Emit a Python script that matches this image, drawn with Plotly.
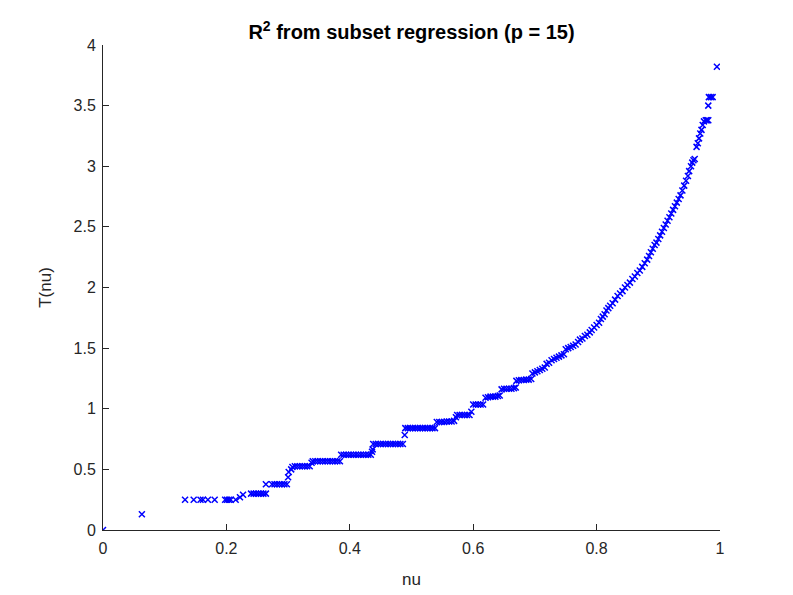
import plotly.graph_objects as go

title_text = "<b>R<sup>2</sup> from subset regression (p = 15)</b>"

nu = [
    0.000, 0.063,
    0.133, 0.147, 0.158, 0.162, 0.170, 0.181,
    0.198, 0.201, 0.204, 0.207, 0.215, 0.222, 0.227,
    0.240, 0.244, 0.248, 0.252, 0.256, 0.260, 0.264,
    0.264, 0.274, 0.278, 0.282, 0.286, 0.290, 0.294, 0.298,
    0.300, 0.301, 0.305, 0.307,
    0.311, 0.315, 0.319, 0.323, 0.327, 0.331, 0.335, 0.338,
    0.340, 0.344, 0.348, 0.352, 0.356, 0.360, 0.364, 0.368, 0.372, 0.376, 0.380, 0.384,
    0.386, 0.390, 0.394, 0.398, 0.402, 0.406, 0.410, 0.414, 0.418, 0.422, 0.426, 0.430, 0.434,
    0.436, 0.437,
    0.438, 0.442, 0.446, 0.450, 0.454, 0.458, 0.462, 0.466, 0.470, 0.474, 0.478, 0.482, 0.486,
    0.489,
    0.490, 0.494, 0.498, 0.502, 0.506, 0.510, 0.514, 0.518, 0.522, 0.526, 0.530, 0.534, 0.538,
    0.541, 0.545, 0.549, 0.553, 0.557, 0.561, 0.565, 0.569,
    0.572, 0.574, 0.578, 0.582, 0.586, 0.590, 0.594, 0.597,
    0.600, 0.604, 0.608, 0.612, 0.616,
    0.620, 0.624, 0.628, 0.632, 0.636, 0.640, 0.643,
    0.646, 0.650, 0.654, 0.658, 0.662, 0.666, 0.669,
    0.670, 0.674, 0.678, 0.682, 0.686, 0.690, 0.694,
    0.696, 0.700, 0.704, 0.708, 0.712, 0.716,
    0.719, 0.723, 0.727, 0.731, 0.735, 0.739, 0.743, 0.747,
    0.750, 0.754, 0.758, 0.762, 0.766, 0.770,
    0.773, 0.777, 0.781, 0.785, 0.789,
    0.792, 0.796, 0.800, 0.804,
    0.807, 0.810, 0.813, 0.816, 0.819,
    0.822, 0.826, 0.830, 0.834, 0.838, 0.842, 0.846, 0.850, 0.854, 0.858,
    0.862, 0.866, 0.870, 0.874, 0.878, 0.882, 0.885, 0.888, 0.891, 0.894,
    0.897, 0.900, 0.903, 0.906, 0.909, 0.912, 0.915, 0.918, 0.921, 0.924,
    0.927, 0.930, 0.933, 0.936, 0.939, 0.942, 0.945, 0.948, 0.950, 0.953,
    0.955, 0.957, 0.959,
    0.962, 0.964, 0.966, 0.968, 0.970, 0.972, 0.974, 0.977, 0.979, 0.981,
    0.981, 0.982, 0.985, 0.988, 0.995,
]

T = [
    0.00, 0.13,
    0.25, 0.25, 0.25, 0.25, 0.25, 0.25,
    0.25, 0.25, 0.25, 0.25, 0.25, 0.27, 0.29,
    0.30, 0.30, 0.30, 0.30, 0.30, 0.30, 0.30,
    0.377, 0.377, 0.377, 0.377, 0.377, 0.377, 0.377, 0.377,
    0.435, 0.478, 0.50, 0.52,
    0.525, 0.525, 0.525, 0.525, 0.525, 0.525, 0.525, 0.555,
    0.567, 0.567, 0.567, 0.567, 0.567, 0.567, 0.567, 0.567, 0.567, 0.567, 0.567, 0.567,
    0.62, 0.62, 0.62, 0.62, 0.62, 0.62, 0.62, 0.62, 0.62, 0.62, 0.62, 0.62, 0.62,
    0.645, 0.665,
    0.71, 0.71, 0.71, 0.71, 0.71, 0.71, 0.71, 0.71, 0.71, 0.71, 0.71, 0.71, 0.71,
    0.784,
    0.84, 0.84, 0.84, 0.84, 0.84, 0.84, 0.84, 0.84, 0.84, 0.84, 0.84, 0.84, 0.84,
    0.89, 0.89, 0.89, 0.89, 0.895, 0.895, 0.895, 0.90,
    0.93, 0.948, 0.948, 0.948, 0.948, 0.948, 0.948, 0.976,
    1.035, 1.035, 1.035, 1.035, 1.035,
    1.09, 1.095, 1.10, 1.10, 1.10, 1.105, 1.11,
    1.16, 1.165, 1.165, 1.165, 1.165, 1.17, 1.175,
    1.23, 1.235, 1.237, 1.237, 1.24, 1.24, 1.245,
    1.29, 1.30, 1.31, 1.32, 1.33, 1.34,
    1.37, 1.38, 1.40, 1.41, 1.42, 1.43, 1.44, 1.45,
    1.49, 1.50, 1.51, 1.52, 1.53, 1.55,
    1.57, 1.58, 1.60, 1.61, 1.63,
    1.65, 1.67, 1.69, 1.71,
    1.74, 1.76, 1.78, 1.81, 1.83,
    1.85, 1.87, 1.90, 1.93, 1.95, 1.97, 2.00, 2.02, 2.04, 2.07,
    2.09, 2.12, 2.14, 2.17, 2.20, 2.23, 2.26, 2.29, 2.32, 2.35,
    2.37, 2.40, 2.43, 2.46, 2.49, 2.52, 2.55, 2.58, 2.61, 2.64,
    2.67, 2.70, 2.73, 2.76, 2.80, 2.84, 2.88, 2.92, 2.96, 3.00,
    3.03, 3.05, 3.06,
    3.16, 3.19, 3.23, 3.27, 3.30, 3.34, 3.37, 3.38, 3.38, 3.38,
    3.50, 3.57, 3.57, 3.57, 3.82,
]

x_ticks = [0, 0.2, 0.4, 0.6, 0.8, 1]
x_labels = ["0", "0.2", "0.4", "0.6", "0.8", "1"]
y_ticks = [0, 0.5, 1, 1.5, 2, 2.5, 3, 3.5, 4]
y_labels = ["0", "0.5", "1", "1.5", "2", "2.5", "3", "3.5", "4"]

axis_color = "#262626"
font_family = "Liberation Sans, Arial, sans-serif"

fig = go.Figure()
fig.add_trace(go.Scatter(
    x=nu, y=T, mode="markers",
    marker=dict(symbol="x-thin", size=6, color="#0000ff",
                line=dict(color="#0000ff", width=1.5)),
    showlegend=False,
))

fig.update_layout(
    width=793, height=595,
    margin=dict(l=95, r=81, t=37, b=73),
    paper_bgcolor="white", plot_bgcolor="white",
    font=dict(family=font_family, size=16, color=axis_color),
    title=dict(text=title_text, x=(95 + 712) / 2 / 793, xanchor="center",
               y=1 - 24 / 595, yanchor="middle",
               font=dict(size=20, color="black", family=font_family)),
    xaxis=dict(range=[0, 1], tickvals=x_ticks, ticktext=x_labels,
               showgrid=False, zeroline=False, showline=True,
               linecolor=axis_color, linewidth=1,
               ticks="inside", ticklen=6, tickcolor=axis_color,
               ticklabelstandoff=4,
               title=dict(text="nu", font=dict(size=17), standoff=16),
               tickfont=dict(size=16)),
    yaxis=dict(range=[0, 4], tickvals=y_ticks, ticktext=y_labels,
               showgrid=False, zeroline=False, showline=True,
               linecolor=axis_color, linewidth=1,
               ticks="inside", ticklen=6, tickcolor=axis_color,
               ticklabelstandoff=3,
               title=dict(text="T(nu)", font=dict(size=17), standoff=17),
               tickfont=dict(size=16)),
)

fig.write_html("out.html")
